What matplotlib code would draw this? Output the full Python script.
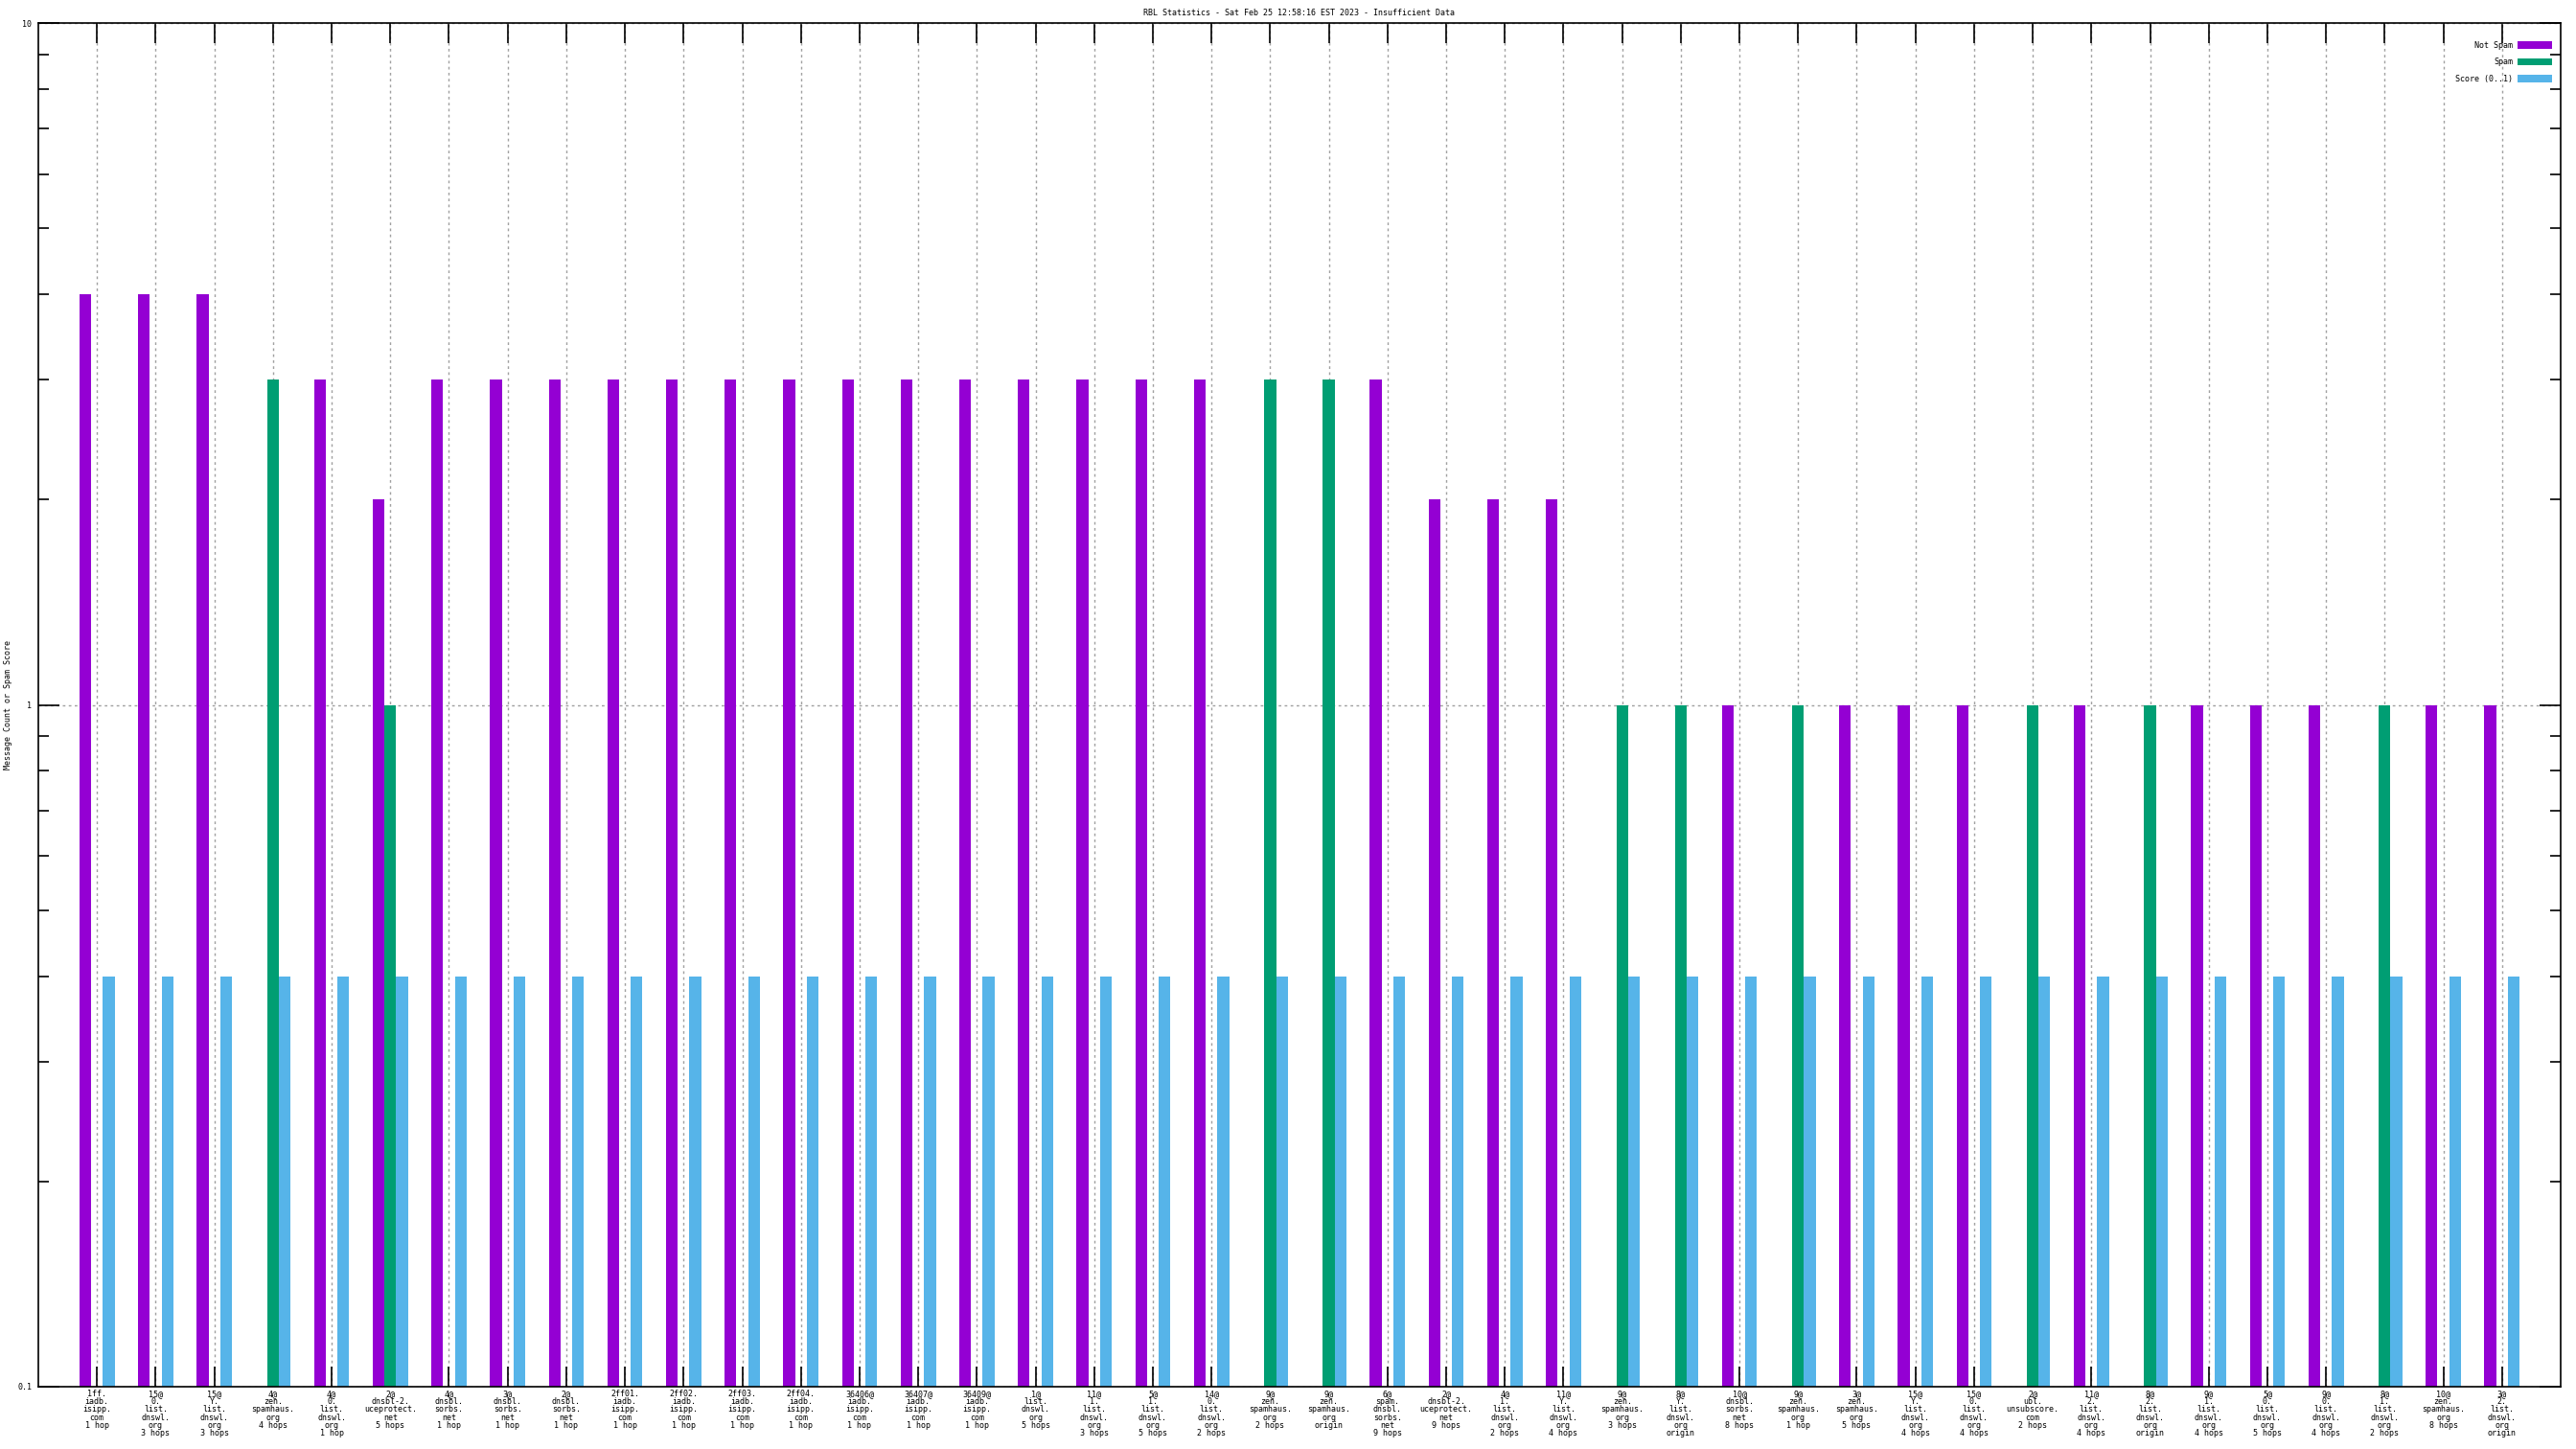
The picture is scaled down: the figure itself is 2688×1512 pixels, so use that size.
import numpy as np
import matplotlib
matplotlib.use('Agg')
import matplotlib.pyplot as plt
from matplotlib.patches import Patch

# RBL check results, one entry per list/hop
labels = [
    "1ff.\niadb.\nisipp.\ncom\n1 hop",
    "15@\n0.\nlist.\ndnswl.\norg\n3 hops",
    "15@\nY.\nlist.\ndnswl.\norg\n3 hops",
    "4@\nzen.\nspamhaus.\norg\n4 hops",
    "4@\n0.\nlist.\ndnswl.\norg\n1 hop",
    "2@\ndnsbl-2.\nuceprotect.\nnet\n5 hops",
    "4@\ndnsbl.\nsorbs.\nnet\n1 hop",
    "3@\ndnsbl.\nsorbs.\nnet\n1 hop",
    "2@\ndnsbl.\nsorbs.\nnet\n1 hop",
    "2ff01.\niadb.\nisipp.\ncom\n1 hop",
    "2ff02.\niadb.\nisipp.\ncom\n1 hop",
    "2ff03.\niadb.\nisipp.\ncom\n1 hop",
    "2ff04.\niadb.\nisipp.\ncom\n1 hop",
    "36406@\niadb.\nisipp.\ncom\n1 hop",
    "36407@\niadb.\nisipp.\ncom\n1 hop",
    "36409@\niadb.\nisipp.\ncom\n1 hop",
    "1@\nlist.\ndnswl.\norg\n5 hops",
    "11@\n1.\nlist.\ndnswl.\norg\n3 hops",
    "5@\n1.\nlist.\ndnswl.\norg\n5 hops",
    "14@\n0.\nlist.\ndnswl.\norg\n2 hops",
    "9@\nzen.\nspamhaus.\norg\n2 hops",
    "9@\nzen.\nspamhaus.\norg\norigin",
    "6@\nspam.\ndnsbl.\nsorbs.\nnet\n9 hops",
    "2@\ndnsbl-2.\nuceprotect.\nnet\n9 hops",
    "4@\n1.\nlist.\ndnswl.\norg\n2 hops",
    "11@\nY.\nlist.\ndnswl.\norg\n4 hops",
    "9@\nzen.\nspamhaus.\norg\n3 hops",
    "8@\nY.\nlist.\ndnswl.\norg\norigin",
    "10@\ndnsbl.\nsorbs.\nnet\n8 hops",
    "9@\nzen.\nspamhaus.\norg\n1 hop",
    "3@\nzen.\nspamhaus.\norg\n5 hops",
    "15@\nY.\nlist.\ndnswl.\norg\n4 hops",
    "15@\n0.\nlist.\ndnswl.\norg\n4 hops",
    "2@\nubl.\nunsubscore.\ncom\n2 hops",
    "11@\n2.\nlist.\ndnswl.\norg\n4 hops",
    "8@\n2.\nlist.\ndnswl.\norg\norigin",
    "9@\n1.\nlist.\ndnswl.\norg\n4 hops",
    "5@\n0.\nlist.\ndnswl.\norg\n5 hops",
    "9@\n0.\nlist.\ndnswl.\norg\n4 hops",
    "8@\n1.\nlist.\ndnswl.\norg\n2 hops",
    "10@\nzen.\nspamhaus.\norg\n8 hops",
    "3@\n2.\nlist.\ndnswl.\norg\norigin",
]
not_spam = [4, 4, 4, 0, 3, 2, 3, 3, 3, 3, 3, 3, 3, 3, 3, 3, 3, 3, 3, 3,
            0, 0, 3, 2, 2, 2, 0, 0, 1, 0, 1, 1, 1, 0, 1, 0, 1, 1, 1, 0, 1, 1]
spam = [0, 0, 0, 3, 0, 1, 0, 0, 0, 0, 0, 0, 0, 0, 0, 0, 0, 0, 0, 0,
        3, 3, 0, 0, 0, 0, 1, 1, 0, 1, 0, 0, 0, 1, 0, 1, 0, 0, 0, 1, 0, 0]
score = [0.4] * len(labels)

series_names = ['Not Spam', 'Spam', 'Score (0..1)']
colors = ['#9400D3', '#009E73', '#56B4E9']

fig = plt.figure(figsize=(26.88, 15.12), dpi=100)
ax = fig.add_axes([40 / 2688, 1 - 1447 / 1512, 2632 / 2688, 1423 / 1512])

x = np.arange(len(labels))
width = 0.2
ymin = 0.1
for k, (vals, col) in enumerate(zip([not_spam, spam, score], colors)):
    vals = np.array(vals, dtype=float)
    keep = vals > 0
    ax.bar(x[keep] + (k - 1) * width, vals[keep] - ymin, width, bottom=ymin,
           color=col, linewidth=0, zorder=2)

ax.set_yscale('log')
ax.set_ylim(0.1, 10)
ax.set_xlim(-1, len(labels))
ax.set_yticks([0.1, 1, 10])
ax.set_yticklabels(['0.1', '1', '10'])
ax.set_yticks([m * d for d in (0.1, 1) for m in range(2, 10)], minor=True)
ax.yaxis.set_minor_formatter(plt.NullFormatter())

mono = 'DejaVu Sans Mono'
fs = 6
ax.set_xticks(x)
ax.set_xticklabels(labels, fontsize=fs, family=mono, linespacing=0.9)
ax.tick_params(axis='x', which='major', direction='in', length=15, width=1.2,
               top=True, pad=2)
ax.tick_params(axis='y', which='major', direction='in', length=16, width=1.2,
               right=True, labelsize=fs, pad=5)
ax.tick_params(axis='y', which='minor', direction='in', length=8, width=1.2,
               right=True)
for lab in ax.get_yticklabels():
    lab.set_family(mono)

ax.set_axisbelow(True)
grid_style = dict(color='#a0a0a0', linestyle=(0, (2, 2.5)), linewidth=1.0)
ax.grid(True, axis='x', which='major', **grid_style)
ax.grid(True, axis='y', which='major', **grid_style)
for sp in ax.spines.values():
    sp.set_linewidth(1.2)

ax.set_title('RBL Statistics - Sat Feb 25 12:58:16 EST 2023 - Insufficient Data',
             fontsize=fs, family=mono, pad=6)
fig.text(9 / 2688, 1 - 735 / 1512, 'Message Count or Spam Score', rotation=90,
         ha='center', va='center', fontsize=fs, family=mono)

handles = [Patch(facecolor=c, edgecolor='none') for c in colors]
ax.legend(handles, series_names, loc='upper right', markerfirst=False,
          bbox_to_anchor=(1 - 9 / 2632, 1 - 19 / 1423), frameon=False,
          borderpad=0, borderaxespad=0, handlelength=4.3, handleheight=1.05,
          handletextpad=0.6, labelspacing=1.0, prop={'family': mono, 'size': fs})

fig.savefig('out.png', dpi=100)
